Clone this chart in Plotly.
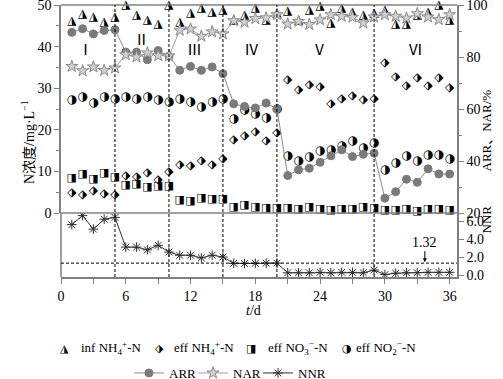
import plotly.graph_objects as go

# ---------------- data ----------------
days = list(range(1, 37))

inf_nh4 = [46.1, 47.9, 47.1, 45.9, 47.2, 50.0, 47.5, 46.3, 45.5, 50.0,
           45.9, 48.1, 49.2, 48.4, 48.7, 46.3, 47.7, 49.3, 46.3, 48.1,
           48.5, 46.5, 48.9, 49.7, 45.7, 49.3, 48.3, 47.5, 48.1, 48.7,
           45.5, 45.5, 47.7, 48.3, 49.9, 46.3]
eff_nh4 = [4.9, 4.3, 5.3, 4.6, 4.3, 8.9, 8.6, 9.7, 8.0, 9.8,
           11.6, 11.3, 12.4, 11.6, 12.9, 17.6, 18.6, 19.4, 17.4, 19.2,
           31.9, 29.6, 30.7, 30.2, 26.3, 27.5, 28.2, 27.2, 27.4, 36.1,
           32.7, 30.6, 32.5, 30.6, 32.5, 30.0]
eff_no3 = [8.4, 9.4, 8.1, 9.6, 8.7, 6.6, 6.9, 6.2, 6.5, 6.4,
           3.0, 2.9, 3.5, 3.3, 3.4, 1.5, 1.8, 1.4, 1.1, 1.1,
           1.1, 0.9, 1.3, 1.0, 0.7, 0.9, 1.0, 1.3, 1.1, 0.6,
           0.7, 1.0, 0.5, 1.0, 1.0, 0.7]
eff_no2 = [27.2, 27.8, 26.4, 28.0, 27.5, 28.0, 27.5, 27.9, 27.2, 26.6,
           27.5, 26.8, 25.6, 26.7, 27.5, 22.7, 24.7, 23.9, 22.8, 25.0,
           13.6, 12.6, 13.4, 14.8, 15.2, 16.0, 17.2, 15.6, 16.9, 10.4,
           12.0, 13.7, 12.6, 14.0, 14.0, 13.0]
arr = [89.5, 90.9, 88.9, 90.2, 90.5, 81.9, 81.9, 79.0, 82.5, 80.3,
       74.9, 76.4, 74.9, 76.2, 73.6, 62.0, 61.0, 60.4, 62.3, 60.1,
       34.4, 36.6, 37.2, 39.5, 42.0, 44.3, 41.7, 42.6, 43.0, 25.7,
       28.2, 33.0, 31.8, 37.0, 35.0, 35.0]
nar = [76.4, 74.7, 76.2, 74.9, 75.8, 80.9, 80.0, 81.6, 80.5, 80.5,
       90.3, 90.8, 88.0, 89.7, 88.9, 94.0, 93.4, 94.8, 95.1, 96.3,
       92.7, 93.7, 92.5, 94.3, 96.3, 95.7, 95.3, 93.1, 95.4, 96.3,
       95.7, 95.0, 96.7, 95.4, 94.4, 96.3]
nnr = [5.6, 6.6, 5.1, 6.2, 6.4, 3.1, 3.1, 2.8, 3.3, 2.55,
       2.2, 2.2, 1.9, 2.2, 2.0, 1.3, 1.28, 1.3, 1.32, 1.32,
       0.25, 0.25, 0.25, 0.3, 0.25, 0.3, 0.3, 0.25, 0.55, 0.05,
       0.2, 0.25, 0.25, 0.3, 0.3, 0.3]

phase_bounds = [5, 10, 15, 20, 29]
phase_labels = ["Ⅰ", "Ⅱ", "Ⅲ", "Ⅳ", "Ⅴ", "Ⅵ"]
phase_label_x = [2.3, 7.5, 12.4, 17.6, 23.9, 32.8]
phase_label_y = [39.3, 41.7, 39.3, 39.3, 39.3, 39.3]
nnr_ref = 1.32
nnr_ref_day = 33.7

legend_row1 = [("◮", "inf NH<sub>4</sub><sup>+</sup>-N"),
               ("⬗", "eff NH<sub>4</sub><sup>+</sup>-N"),
               ("◨", "eff NO<sub>3</sub><sup>−</sup>-N"),
               ("◑", "eff NO<sub>2</sub><sup>−</sup>-N")]

# ---------------- layout geometry ----------------
W, H = 503, 379
ML, MR, MT, MB = 61, 46, 5, 102
PW, PH = W - ML - MR, H - MT - MB
split = (277 - 213) / PH

def px_x(p):
    return (p - ML) / PW

def px_y(p):
    return (H - MB - p) / PH

SERIF = "Liberation Serif, 'Times New Roman', 'Noto Sans CJK SC', serif"
GLYPH = "DejaVu Sans"
AX = "#808080"

fig = go.Figure()

def glyph_trace(y, ch, size):
    return go.Scatter(x=days, y=y, mode="text", text=[ch] * len(days),
                      textposition="middle center", cliponaxis=False,
                      textfont=dict(family=GLYPH, size=size, color="black"),
                      showlegend=False, hoverinfo="skip", xaxis="x", yaxis="y")

fig.add_trace(glyph_trace(inf_nh4, "◮", 12))
fig.add_trace(glyph_trace(eff_nh4, "⬗", 12))
fig.add_trace(glyph_trace(eff_no3, "◨", 11))
fig.add_trace(glyph_trace(eff_no2, "◑", 12))

fig.add_trace(go.Scatter(x=days, y=arr, mode="lines+markers", name="ARR",
                         line=dict(color="#8c8c8c", width=1),
                         marker=dict(symbol="circle", size=8, color="#7a7a7a",
                                     line=dict(color="#7a7a7a", width=1)),
                         xaxis="x", yaxis="y2", legend="legend"))
fig.add_trace(go.Scatter(x=days, y=nar, mode="lines+markers", name="NAR",
                         line=dict(color="#a0a0a0", width=1),
                         marker=dict(symbol="star", size=9, color="#d0d0d0",
                                     line=dict(color="#8c8c8c", width=1)),
                         xaxis="x", yaxis="y2", legend="legend2"))
fig.add_trace(go.Scatter(x=days, y=nnr, mode="lines+markers", name="NNR",
                         line=dict(color="#303030", width=1),
                         marker=dict(symbol="asterisk-open", size=8,
                                     line=dict(color="black", width=1)),
                         xaxis="x", yaxis="y3", legend="legend3"))

tickfont = dict(family=SERIF, size=14, color="black")

def legend_at(px):
    return dict(orientation="h", x=px_x(px), xanchor="left",
                y=px_y(373), yanchor="middle",
                font=dict(family=SERIF, size=13, color="black"),
                bgcolor="rgba(0,0,0,0)", itemwidth=30)

fig.update_layout(
    width=W, height=H,
    margin=dict(l=ML, r=MR, t=MT, b=MB, autoexpand=False),
    paper_bgcolor="white", plot_bgcolor="white",
    font=dict(family=SERIF, size=14, color="black"),
    xaxis=dict(domain=[0, 1], range=[0, 36.68], anchor="y3",
               tickmode="linear", tick0=0, dtick=6,
               ticks="outside", ticklen=5, tickcolor=AX,
               showline=True, linecolor=AX, linewidth=1.5,
               showgrid=False, zeroline=False, tickfont=tickfont,
               ticklabeloverflow="allow",
               minor=dict(tick0=0, dtick=3, ticks="outside", ticklen=5, tickcolor=AX)),
    yaxis=dict(domain=[split, 1], range=[0, 50.01], anchor="x", side="left",
               tickmode="linear", tick0=0, dtick=10,
               ticks="outside", ticklen=5, tickcolor=AX,
               showline=True, linecolor=AX, linewidth=1.5,
               showgrid=False, zeroline=False, tickfont=tickfont,
               ticklabeloverflow="allow",
               minor=dict(dtick=5, ticks="outside", ticklen=3, tickcolor=AX)),
    yaxis2=dict(overlaying="y", anchor="x", side="right", range=[20, 100.02],
                tickmode="linear", tick0=20, dtick=20,
                ticks="outside", ticklen=5, tickcolor=AX,
                showline=True, linecolor=AX, linewidth=1.5,
                showgrid=False, zeroline=False, tickfont=tickfont,
                ticklabeloverflow="allow",
                minor=dict(dtick=10, ticks="outside", ticklen=3, tickcolor=AX)),
    yaxis3=dict(domain=[0, split], anchor="x", side="right", range=[-0.22, 6.89],
                tickmode="linear", tick0=0, dtick=2, tickformat=".1f",
                ticks="outside", ticklen=5, tickcolor=AX,
                showline=True, linecolor=AX, linewidth=1.5,
                showgrid=False, zeroline=False, tickfont=tickfont,
                ticklabeloverflow="allow"),
    legend=legend_at(129),
    legend2=legend_at(193),
    legend3=legend_at(258),
    showlegend=True,
)

shapes = []
shapes.append(dict(type="line", xref="paper", yref="paper", x0=0, x1=1, y0=1, y1=1,
                   line=dict(color=AX, width=1.5)))
shapes.append(dict(type="line", xref="paper", yref="paper", x0=0, x1=1, y0=split, y1=split,
                   line=dict(color=AX, width=1.5)))
shapes.append(dict(type="line", xref="paper", yref="paper", x0=0, x1=0, y0=0, y1=split,
                   line=dict(color=AX, width=1.5)))
for b in phase_bounds:
    shapes.append(dict(type="line", xref="x", yref="paper", x0=b, x1=b, y0=0, y1=1,
                       line=dict(color="black", width=1, dash="3px,2px")))
shapes.append(dict(type="line", xref="paper", yref="y3", x0=0, x1=1, y0=nnr_ref, y1=nnr_ref,
                   line=dict(color="black", width=1, dash="3px,2px")))
fig.update_layout(shapes=shapes)

ann = []
for lab, lx, ly in zip(phase_labels, phase_label_x, phase_label_y):
    ann.append(dict(x=lx, y=ly, xref="x", yref="y", text=lab, showarrow=False,
                    font=dict(family=SERIF, size=15, color="black")))
ann.append(dict(x=nnr_ref_day, y=nnr_ref, xref="x", yref="y3", text=f"{nnr_ref:.2f}",
                showarrow=True, ax=0, ay=-21, arrowhead=2, arrowsize=0.8,
                arrowwidth=1, arrowcolor="black", standoff=1,
                font=dict(family=SERIF, size=14, color="black")))
ann.append(dict(x=px_x(17), y=px_y(142), xref="paper", yref="paper",
                text="N浓度/mg·L<sup>−1</sup>", textangle=-90, showarrow=False,
                font=dict(family=SERIF, size=14, color="black")))
ann.append(dict(x=px_x(495), y=px_y(88), xref="paper", yref="paper",
                text="ARR、NAR/%", textangle=-90, showarrow=False,
                font=dict(family=SERIF, size=13, color="black")))
ann.append(dict(x=px_x(495), y=px_y(236), xref="paper", yref="paper",
                text="NNR", textangle=-90, showarrow=False,
                font=dict(family=SERIF, size=13, color="black")))
ann.append(dict(x=px_x(253), y=px_y(320), xref="paper", yref="paper",
                text="<i>t</i>/d", showarrow=False,
                font=dict(family=SERIF, size=14, color="black")))
g_x = [64, 159, 251, 347]
t_x = [79, 172, 266, 354]
for (g, t), gx, tx in zip(legend_row1, g_x, t_x):
    ann.append(dict(x=px_x(gx), y=px_y(348), xref="paper", yref="paper", text=g,
                    showarrow=False, xanchor="center", yanchor="middle",
                    font=dict(family=GLYPH, size=11, color="black")))
    ann.append(dict(x=px_x(tx), y=px_y(348), xref="paper", yref="paper", text=t,
                    showarrow=False, xanchor="left", yanchor="middle",
                    font=dict(family=SERIF, size=13, color="black")))
fig.update_layout(annotations=ann)

fig.write_html("out.html", config={"displayModeBar": False},
               post_script="document.body.style.margin='0';document.body.style.overflow='hidden';")
